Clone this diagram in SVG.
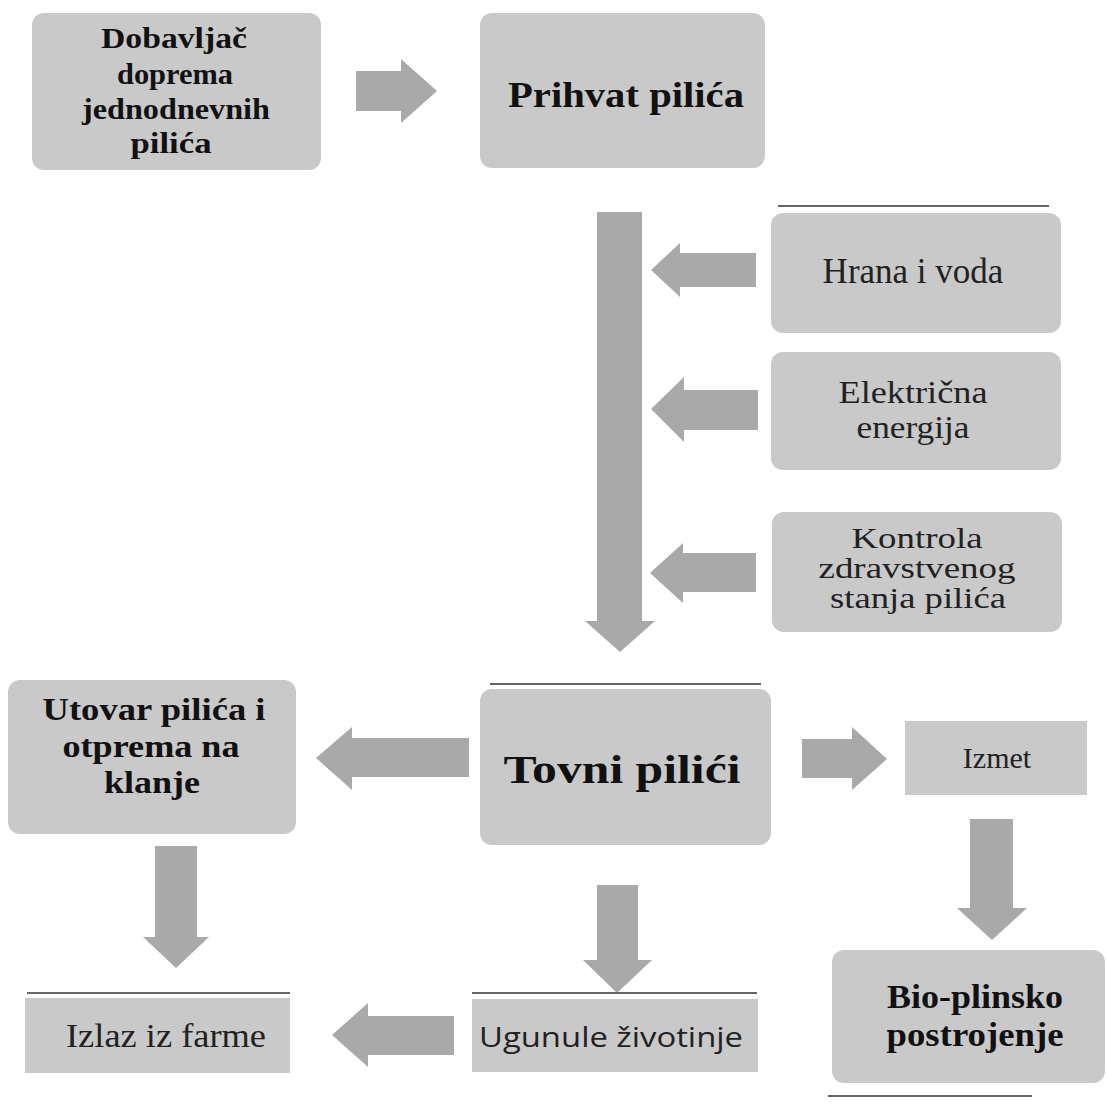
<svg xmlns="http://www.w3.org/2000/svg" width="1106" height="1105" viewBox="0 0 1106 1105">
<style>
.box{fill:#c9c9c9;}
.arr{fill:#a9a9a9;}
.rule{stroke:#333;stroke-width:1.5;fill:none;}
.b{font-family:"Liberation Serif","Times New Roman",serif;font-weight:bold;fill:#111;text-anchor:middle;}
.r{font-family:"Liberation Serif","Times New Roman",serif;fill:#222;text-anchor:middle;}
.s{font-family:"Open Sans","Liberation Sans",Arial,sans-serif;fill:#222;text-anchor:middle;}
</style>
<rect width="1106" height="1105" fill="#ffffff"/>
<g id="connectors">
  <polygon class="arr" points="356,71 401,71 401,59 437,91 401,123 401,111 356,111"/>
  <polygon class="arr" points="597,212 642,212 642,621 655,621 620,652 585,621 597,621"/>
  <polygon class="arr" points="756,253 680,253 680,243 651,270 680,297 680,287 756,287"/>
  <polygon class="arr" points="758,390 684,390 684,377 651,409 684,442 684,430 758,430"/>
  <polygon class="arr" points="756,553 683,553 683,543 650,573 683,603 683,592 756,592"/>
  <polygon class="arr" points="469,738 352,738 352,727 316,758 352,790 352,777 469,777"/>
  <polygon class="arr" points="802,739 852,739 852,727 887,759 852,790 852,778 802,778"/>
  <polygon class="arr" points="155,846 197,846 197,937 209,937 176,968 143,937 155,937"/>
  <polygon class="arr" points="597,885 638,885 638,960 652,960 617,993 583,960 597,960"/>
  <polygon class="arr" points="454,1016 368,1016 368,1003 332,1035 368,1067 368,1055 454,1055"/>
  <polygon class="arr" points="970,819 1013,819 1013,908 1027,908 992,940 957,908 970,908"/>
</g>
<g id="rules">
  <line class="rule" x1="778" y1="206" x2="1049" y2="206"/>
  <line class="rule" x1="490" y1="684" x2="761" y2="684"/>
  <line class="rule" x1="27" y1="993" x2="290" y2="993"/>
  <line class="rule" x1="472" y1="993" x2="757" y2="993"/>
  <line class="rule" x1="828" y1="1096" x2="1032" y2="1096"/>
</g>
<g id="n-dobavljac">
  <rect class="box" x="32" y="13" width="289" height="157" rx="12"/>
  <text class="b" font-size="30" x="174" y="48" textLength="146" lengthAdjust="spacingAndGlyphs">Dobavljač</text>
  <text class="b" font-size="30" x="175" y="84" textLength="116" lengthAdjust="spacingAndGlyphs">doprema</text>
  <text class="b" font-size="30" x="176" y="119" textLength="188" lengthAdjust="spacingAndGlyphs">jednodnevnih</text>
  <text class="b" font-size="30" x="171" y="153" textLength="81" lengthAdjust="spacingAndGlyphs">pilića</text>
</g>
<g id="n-prihvat">
  <rect class="box" x="480" y="13" width="285" height="155" rx="12"/>
  <text class="b" font-size="35" x="626" y="107" textLength="236" lengthAdjust="spacingAndGlyphs">Prihvat pilića</text>
</g>
<g id="n-hrana">
  <rect class="box" x="771" y="213" width="290" height="120" rx="12"/>
  <text class="r" font-size="35" x="913" y="283">Hrana i voda</text>
</g>
<g id="n-elektricna">
  <rect class="box" x="771" y="352" width="290" height="118" rx="12"/>
  <text class="r" font-size="32" x="913" y="403" textLength="149" lengthAdjust="spacingAndGlyphs">Električna</text>
  <text class="r" font-size="32" x="913" y="438" textLength="113" lengthAdjust="spacingAndGlyphs">energija</text>
</g>
<g id="n-kontrola">
  <rect class="box" x="772" y="512" width="290" height="120" rx="12"/>
  <text class="r" font-size="29" x="917" y="548" textLength="131" lengthAdjust="spacingAndGlyphs">Kontrola</text>
  <text class="r" font-size="29" x="917" y="578" textLength="197" lengthAdjust="spacingAndGlyphs">zdravstvenog</text>
  <text class="r" font-size="29" x="918" y="608" textLength="176" lengthAdjust="spacingAndGlyphs">stanja pilića</text>
</g>
<g id="n-utovar">
  <rect class="box" x="8" y="680" width="288" height="154" rx="12"/>
  <text class="b" font-size="32" x="154" y="720" textLength="223" lengthAdjust="spacingAndGlyphs">Utovar pilića i</text>
  <text class="b" font-size="32" x="151" y="757" textLength="177" lengthAdjust="spacingAndGlyphs">otprema na</text>
  <text class="b" font-size="32" x="152" y="793" textLength="96" lengthAdjust="spacingAndGlyphs">klanje</text>
</g>
<g id="n-tovni">
  <rect class="box" x="480" y="689" width="291" height="156" rx="12"/>
  <text class="b" font-size="40" x="622" y="783" textLength="237" lengthAdjust="spacingAndGlyphs">Tovni pilići</text>
</g>
<g id="n-izmet">
  <rect class="box" x="905" y="721" width="182" height="74"/>
  <text class="r" font-size="30" x="997" y="768">Izmet</text>
</g>
<g id="n-bio">
  <rect class="box" x="832" y="950" width="273" height="133" rx="12"/>
  <text class="b" font-size="33" x="975" y="1008" textLength="176" lengthAdjust="spacingAndGlyphs">Bio-plinsko</text>
  <text class="b" font-size="33" x="975" y="1046" textLength="177" lengthAdjust="spacingAndGlyphs">postrojenje</text>
</g>
<g id="n-ugunule">
  <rect class="box" x="472" y="999" width="286" height="73"/>
  <text class="s" font-size="27" x="611" y="1047" textLength="264" lengthAdjust="spacingAndGlyphs">Ugunule životinje</text>
</g>
<g id="n-izlaz">
  <rect class="box" x="25" y="998" width="265" height="75"/>
  <text class="r" font-size="34" x="166" y="1047" textLength="200" lengthAdjust="spacingAndGlyphs">Izlaz iz farme</text>
</g>
</svg>
